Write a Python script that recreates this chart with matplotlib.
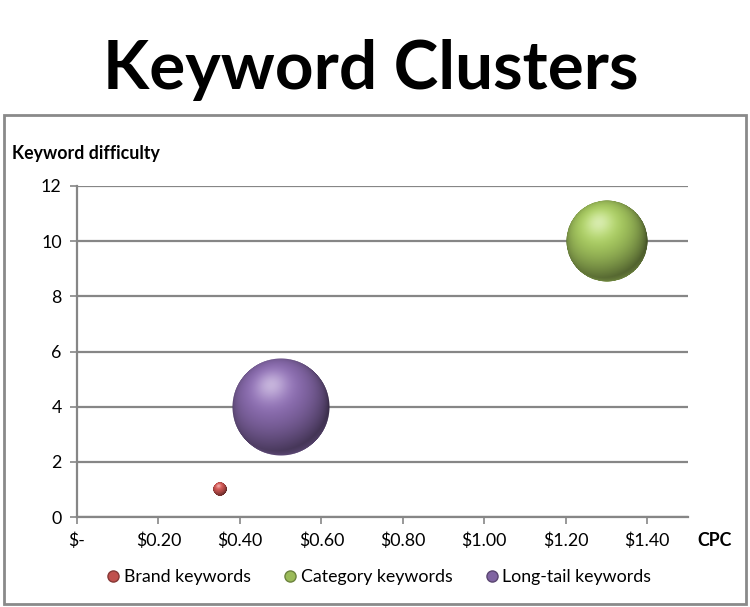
import numpy as np
import matplotlib
matplotlib.use('Agg')
import matplotlib.pyplot as plt
from matplotlib.offsetbox import OffsetImage, AnnotationBbox
from matplotlib.lines import Line2D
from matplotlib.patches import Rectangle

plt.rcParams['font.family'] = ['Lato', 'DejaVu Sans']

# data
series = ['Brand keywords', 'Category keywords', 'Long-tail keywords']
cpc = [0.35, 1.30, 0.50]
difficulty = [1, 10, 4]
volume = [2, 70, 100]
colors = ['#C0504D', '#9BBB59', '#8064A2']
xticks = [0, 0.2, 0.4, 0.6, 0.8, 1.0, 1.2, 1.4]
xticklabels = ['$-', '$0.20', '$0.40', '$0.60', '$0.80', '$1.00', '$1.20', '$1.40']
yticks = [0, 2, 4, 6, 8, 10, 12]

DPI = 100
MAX_D = 98  # px diameter of biggest bubble
GRAY = '#868686'
FS = 12.8


def sphere(color, n=200):
    # shaded ball, light from upper left
    base = np.array(matplotlib.colors.to_rgb(color))
    t = np.linspace(-1, 1, n)
    xx, yy = np.meshgrid(t, -t)
    r = np.sqrt(xx**2 + yy**2)
    nz = np.sqrt(np.clip(1 - r**2, 0, 1))
    L = np.array([-0.2, 0.45, 0.87])
    L = L / np.linalg.norm(L)
    dif = np.clip(xx*L[0] + yy*L[1] + nz*L[2], 0, 1)
    spec = dif**18
    rim = np.clip(-yy, 0, 1) * np.clip(1 - nz, 0, 1)**1.5
    shade = 0.45 + 0.72*dif + 0.35*rim
    rgb = base[None, None, :] * shade[..., None]
    rgb = rgb + 0.45*spec[..., None]*(1 - rgb)
    rgb = np.clip(rgb, 0, 1)
    alpha = np.clip((1 - r) * n / 2.0, 0, 1)
    return np.dstack([rgb, alpha])


fig = plt.figure(figsize=(7.5, 6.07), dpi=DPI)
ax = fig.add_axes([77/750, 90/607, 611/750, 331/607])

ax.set_xlim(0, 1.5)
ax.set_ylim(0, 12)
ax.set_xticks(xticks)
ax.set_xticklabels(xticklabels)
ax.set_yticks(yticks)
ax.yaxis.grid(True, color=GRAY, lw=1.6)
ax.set_axisbelow(True)
for s in ['top', 'right']:
    ax.spines[s].set_visible(False)
for s in ['left', 'bottom']:
    ax.spines[s].set_color(GRAY)
    ax.spines[s].set_linewidth(1.6)
ax.tick_params(direction='out', length=5, width=1.2, color=GRAY,
               labelsize=FS, pad=6)

vmax = max(volume)
for x, y, v, c in zip(cpc, difficulty, volume, colors):
    d = MAX_D * np.sqrt(v / vmax)
    img = sphere(c)
    oi = OffsetImage(img, zoom=d / img.shape[0] * 72 / DPI)
    ab = AnnotationBbox(oi, (x, y), frameon=False, pad=0, zorder=3)
    ax.add_artist(ab)

handles = [Line2D([], [], ls='', marker='o', ms=8, mfc=c,
                  mec=matplotlib.colors.to_hex(np.array(matplotlib.colors.to_rgb(c))*0.7))
           for c in colors]
fig.legend(handles, series, loc='center', bbox_to_anchor=(378/750, 1-577/607),
           ncol=3, frameon=False, fontsize=FS, handletextpad=0.1,
           columnspacing=1.7, handlelength=1.0)

fig.text(371/750, 1-89/607, 'Keyword Clusters', ha='center', va='baseline',
         fontsize=48.5, fontweight='bold')
fig.text(12/750, 1-153/607, 'Keyword difficulty', ha='left', va='center',
         fontsize=FS, fontweight='bold')
fig.text(697/750, 1-540/607, 'CPC', ha='left', va='center',
         fontsize=FS, fontweight='bold')

fig.patches.append(Rectangle((4/750, 3/607), 742/750, 489/607, fill=False,
                             edgecolor='#8a8a8a', lw=2, transform=fig.transFigure))

fig.savefig('out.png', dpi=DPI)
